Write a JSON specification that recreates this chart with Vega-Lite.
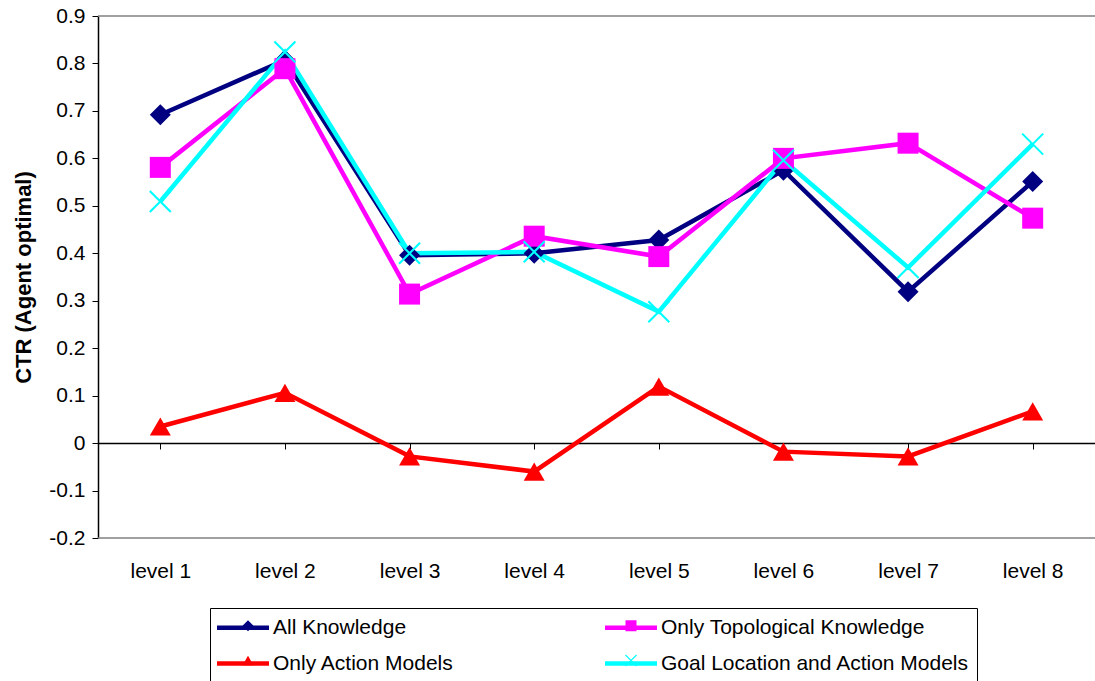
{
  "$schema": "https://vega.github.io/schema/vega-lite/v6.json",
  "width": 997,
  "height": 522,
  "autosize": {"type": "none"},
  "padding": {"left": 98, "top": 16, "right": 0, "bottom": 143},
  "background": "white",
  "config": {
    "font": "Liberation Sans",
    "view": {"stroke": null}
  },
  "datasets": {
    "ctr": [
      {"level": "level 1", "series": "All Knowledge", "ctr": 0.692},
      {"level": "level 2", "series": "All Knowledge", "ctr": 0.807},
      {"level": "level 3", "series": "All Knowledge", "ctr": 0.396},
      {"level": "level 4", "series": "All Knowledge", "ctr": 0.400},
      {"level": "level 5", "series": "All Knowledge", "ctr": 0.428},
      {"level": "level 6", "series": "All Knowledge", "ctr": 0.575},
      {"level": "level 7", "series": "All Knowledge", "ctr": 0.319},
      {"level": "level 8", "series": "All Knowledge", "ctr": 0.551},
      {"level": "level 1", "series": "Only Topological Knowledge", "ctr": 0.581},
      {"level": "level 2", "series": "Only Topological Knowledge", "ctr": 0.789},
      {"level": "level 3", "series": "Only Topological Knowledge", "ctr": 0.314},
      {"level": "level 4", "series": "Only Topological Knowledge", "ctr": 0.436},
      {"level": "level 5", "series": "Only Topological Knowledge", "ctr": 0.393},
      {"level": "level 6", "series": "Only Topological Knowledge", "ctr": 0.600},
      {"level": "level 7", "series": "Only Topological Knowledge", "ctr": 0.632},
      {"level": "level 8", "series": "Only Topological Knowledge", "ctr": 0.474},
      {"level": "level 1", "series": "Only Action Models", "ctr": 0.035},
      {"level": "level 2", "series": "Only Action Models", "ctr": 0.106},
      {"level": "level 3", "series": "Only Action Models", "ctr": -0.028},
      {"level": "level 4", "series": "Only Action Models", "ctr": -0.060},
      {"level": "level 5", "series": "Only Action Models", "ctr": 0.119},
      {"level": "level 6", "series": "Only Action Models", "ctr": -0.018},
      {"level": "level 7", "series": "Only Action Models", "ctr": -0.028},
      {"level": "level 8", "series": "Only Action Models", "ctr": 0.067},
      {"level": "level 1", "series": "Goal Location and Action Models", "ctr": 0.509},
      {"level": "level 2", "series": "Goal Location and Action Models", "ctr": 0.824},
      {"level": "level 3", "series": "Goal Location and Action Models", "ctr": 0.400},
      {"level": "level 4", "series": "Goal Location and Action Models", "ctr": 0.403},
      {"level": "level 5", "series": "Goal Location and Action Models", "ctr": 0.277},
      {"level": "level 6", "series": "Goal Location and Action Models", "ctr": 0.596},
      {"level": "level 7", "series": "Goal Location and Action Models", "ctr": 0.370},
      {"level": "level 8", "series": "Goal Location and Action Models", "ctr": 0.630}
    ],
    "frame": [{"ctr": 0.9}, {"ctr": -0.2}]
  },
  "layer": [
    {
      "data": {"name": "frame"},
      "mark": {"type": "rule", "color": "#808080", "strokeWidth": 1.5},
      "encoding": {
        "y": {"field": "ctr", "type": "quantitative", "scale": {"domain": [-0.2, 0.9], "nice": false, "zero": false}}
      }
    },
    {
      "data": {"name": "ctr"},
      "mark": {"type": "line", "strokeWidth": 4.5},
      "encoding": {
        "x": {
          "field": "level",
          "type": "nominal",
          "sort": null,
          "scale": {"paddingInner": 0, "paddingOuter": 0},
          "axis": {
            "title": null,
            "offset": -95,
            "bandPosition": 0,
            "labelAngle": 0,
            "labelFontSize": 21,
            "labelColor": "black",
            "labelPadding": 111,
            "tickSize": 6,
            "tickColor": "black",
            "domainColor": "black",
            "domainWidth": 1.5,
            "grid": false
          }
        },
        "y": {
          "field": "ctr",
          "type": "quantitative",
          "scale": {"domain": [-0.2, 0.9], "nice": false, "zero": false},
          "axis": {
            "title": "CTR (Agent optimal)",
            "titleFontSize": 22,
            "titleFontWeight": "bold",
            "titleColor": "black",
            "titlePadding": 13,
            "values": [-0.2, -0.1, 0, 0.1, 0.2, 0.3, 0.4, 0.5, 0.6, 0.7, 0.8, 0.9],
            "labelExpr": "datum.value == 0 ? '0' : replace(format(datum.value, '.1f'), '\u2212', '-')",
            "labelFontSize": 21,
            "labelColor": "black",
            "labelPadding": 7,
            "tickSize": 6,
            "tickColor": "black",
            "domainColor": "black",
            "domainWidth": 1.5,
            "grid": false
          }
        },
        "color": {
          "field": "series",
          "type": "nominal",
          "scale": {
            "domain": ["All Knowledge", "Only Topological Knowledge", "Only Action Models", "Goal Location and Action Models"],
            "range": ["#000080", "#FF00FF", "#FF0000", "#00FFFF"]
          },
          "legend": {
            "title": null,
            "orient": "none",
            "legendX": 112,
            "legendY": 592,
            "columns": 2,
            "direction": "horizontal",
            "columnPadding": 142,
            "rowPadding": 13,
            "padding": 7,
            "strokeColor": "black",
            "labelFontSize": 21,
            "labelColor": "black",
            "labelOffset": 17.5,
            "labelLimit": 500,
            "symbolType": "M-2.6,0H2.6",
            "symbolSize": 400,
            "symbolOffset": 13.5,
            "symbolStrokeWidth": 4.5,
            "symbolOpacity": 1
          }
        }
      }
    },
    {
      "data": {"name": "ctr"},
      "mark": {"type": "point", "filled": true, "opacity": 1, "size": 441},
      "encoding": {
        "x": {"field": "level", "type": "nominal", "sort": null},
        "y": {"field": "ctr", "type": "quantitative"},
        "fill": {
          "field": "series",
          "type": "nominal",
          "sort": null,
          "scale": {"range": ["#000080", "#FF00FF", "#FF0000", "#00FFFF"]},
          "legend": {
            "title": null,
            "orient": "none",
            "legendX": 112,
            "legendY": 592,
            "columns": 2,
            "direction": "horizontal",
            "columnPadding": 317,
            "rowPadding": 13,
            "padding": 7,
            "labelFontSize": 21,
            "labelExpr": "' '",
            "labelOffset": 24.5,
            "labelLimit": 500,
            "symbolSize": 121,
            "symbolOffset": 20.5,
            "symbolStrokeWidth": 0,
            "symbolOpacity": 1
          }
        },
        "shape": {
          "field": "series",
          "type": "nominal",
          "sort": null,
          "scale": {
            "range": ["diamond", "square", "triangle-up", "M-0.929,-1.071L1.071,0.929L0.929,1.071L-1.071,-0.929Z M-1.071,0.929L0.929,-1.071L1.071,-0.929L-0.929,1.071Z"]
          },
          "legend": {
            "title": null,
            "orient": "none",
            "legendX": 112,
            "legendY": 592,
            "columns": 2,
            "direction": "horizontal",
            "columnPadding": 317,
            "rowPadding": 13,
            "padding": 7,
            "labelFontSize": 21,
            "labelExpr": "' '",
            "labelOffset": 24.5,
            "labelLimit": 500,
            "symbolSize": 121,
            "symbolOffset": 20.5,
            "symbolStrokeWidth": 0,
            "symbolOpacity": 1
          }
        }
      }
    }
  ]
}
